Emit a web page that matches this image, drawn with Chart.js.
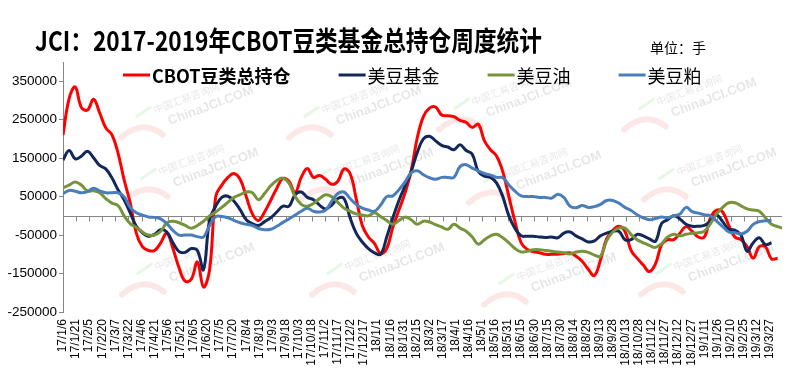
<!DOCTYPE html>
<html><head><meta charset="utf-8">
<script src="https://cdn.jsdelivr.net/npm/chart.js@4.4.1/dist/chart.umd.min.js"></script>
<style>
html,body{margin:0;padding:0;background:#fff;}
#wrap{position:relative;width:794px;height:384px;overflow:hidden;background:#fff;}
#c{position:absolute;left:0;top:0;}
#title{position:absolute;left:35px;top:26px;font-family:"Noto Sans CJK SC";font-weight:bold;font-size:27px;line-height:1;white-space:nowrap;transform-origin:0 0;color:#000;}
#unit{position:absolute;left:650px;top:40px;font-family:"Noto Sans CJK SC";font-size:14px;line-height:1;white-space:nowrap;color:#000;}
</style></head>
<body><div id="wrap">
<canvas id="c" width="794" height="384"></canvas>
<div id="title">JCI：2017-2019年CBOT豆类基金总持仓周度统计</div>
<div id="unit">单位：手</div>
</div>
<script>
// ---- data ----
const firstWeek = '2017-01-06';           // weekly observations, one per week from this date
const seriesNames = ['CBOT豆类总持仓','美豆基金','美豆油','美豆粕'];
const seriesColors = ['#FF0000','#12275A','#77933C','#4A7EBB'];
const tickLabels = ['17/1/6','17/1/21','17/2/5','17/2/20','17/3/7','17/3/22','17/4/6','17/4/21','17/5/6','17/5/21','17/6/5','17/6/20','17/7/5','17/7/20','17/8/4','17/8/19','17/9/3','17/9/18','17/10/3','17/10/18','17/11/2','17/11/17','17/12/2','17/12/17','18/1/1','18/1/16','18/1/31','18/2/15','18/3/2','18/3/17','18/4/1','18/4/16','18/5/1','18/5/16','18/5/31','18/6/15','18/6/30','18/7/15','18/7/30','18/8/14','18/8/29','18/9/13','18/9/28','18/10/13','18/10/28','18/11/12','18/11/27','18/12/12','18/12/27','19/1/11','19/1/26','19/2/10','19/2/25','19/3/12','19/3/27'];
const yTickValues = [-250000,-150000,-50000,50000,150000,250000,350000];
const yMin = -250000, yMax = 400000;
const lastAxisDate = '2019-04-10';
const watermarkLines = ['中国汇易咨询网', 'ChinaJCI.COM'];

const cbotTotal = [210000,305000,335000,282000,275000,303000,268000,229000,211000,164000,
94000,34000,-45000,-80000,-90000,-90000,-70000,-45000,-85000,-135000,
-170000,-165000,-120000,-185000,-140000,50000,80000,100000,110000,95000,
50000,5000,-12000,10000,40000,72000,97000,90000,60000,100000,
123000,100000,105000,95000,82000,90000,122000,110000,45000,-25000,
-55000,-72000,-98000,-85000,-30000,15000,60000,117000,203000,258000,
280000,283000,262000,260000,258000,248000,243000,230000,238000,195000,
172000,155000,115000,50000,-15000,-70000,-87000,-93000,-96000,-100000,
-100000,-100000,-98000,-96000,-105000,-118000,-139000,-155000,-115000,-60000,
-38000,-27000,-40000,-90000,-110000,-128000,-145000,-125000,-75000,-62000,
-62000,-45000,-28000,-40000,-55000,-55000,-5000,15000,10000,-25000,
-55000,-62000,-80000,-110000,-80000,-80000,-112000,-110000];

const soyFund = [145000,170000,148000,155000,168000,151000,131000,122000,99000,68000,
42000,8000,-27000,-44000,-53000,-48000,-36000,-42000,-70000,-93000,
-95000,-85000,-90000,-140000,-10000,25000,48000,51000,38000,16000,
-10000,-20000,-25000,-15000,-5000,10000,25000,25000,55000,62000,
48000,42000,28000,18000,28000,45000,45000,-5000,-45000,-68000,
-85000,-96000,-100000,-55000,-5000,40000,78000,115000,165000,200000,
207000,195000,183000,179000,172000,185000,170000,160000,115000,103000,
100000,85000,50000,0,-33000,-52000,-53000,-53000,-55000,-56000,
-55000,-57000,-45000,-42000,-52000,-60000,-68000,-65000,-52000,-45000,
-40000,-40000,-62000,-62000,-48000,-52000,-60000,-66000,-20000,-10000,
0,-8000,-22000,-27000,-27000,-25000,-14000,2000,-15000,-35000,
-37000,-50000,-92000,-70000,-57000,-75000,-70000];

const soyOil = [73000,80000,88000,80000,65000,65000,60000,45000,33000,27000,
0,-20000,-30000,-42000,-50000,-50000,-40000,-18000,-14000,-18000,
-25000,-32000,-25000,-14000,0,10000,22000,35000,48000,55000,
62000,60000,42000,58000,78000,92000,98000,85000,50000,30000,
25000,32000,45000,55000,50000,35000,20000,12000,5000,2000,
0,8000,-2000,-12000,-22000,-12000,-3000,-10000,-22000,-14000,
-16000,-23000,-29000,-35000,-22000,-32000,-40000,-55000,-74000,-62000,
-52000,-48000,-57000,-70000,-85000,-94000,-92000,-88000,-88000,-90000,
-92000,-94000,-96000,-99000,-94000,-92000,-95000,-102000,-105000,-65000,
-42000,-32000,-32000,-48000,-62000,-70000,-77000,-82000,-72000,-55000,
-48000,-52000,-48000,-45000,-44000,-40000,-20000,5000,22000,34000,
34000,26000,18000,15000,12000,-5000,-22000,-28000,-33000];

const soyMeal = [58000,66000,64000,60000,63000,72000,65000,60000,60000,60000,
50000,22000,8000,2000,-3000,-4000,-8000,-20000,-38000,-50000,
-50000,-50000,-54000,-55000,-25000,-2000,-2000,-5000,-12000,-18000,
-22000,-25000,-33000,-36000,-35000,-27000,-17000,-8000,2000,12000,
20000,12000,10000,15000,38000,58000,62000,45000,30000,20000,
15000,12000,28000,50000,52000,68000,88000,112000,117000,107000,
99000,95000,100000,100000,100000,128000,133000,124000,117000,110000,
106000,100000,99000,80000,64000,52000,50000,50000,48000,48000,
46000,56000,48000,25000,21000,27000,22000,24000,30000,40000,
40000,33000,22000,14000,3000,-5000,-10000,-7000,-3000,-5000,
0,5000,22000,11000,7000,3000,0,-14000,-28000,-42000,
-44000,-47000,-40000,-22000,-15000,-13000,-12000];

// ---- helpers ----
const DAY = 86400000;
const t0 = Date.parse(firstWeek + 'T00:00:00Z');
function labelToDay(s){ const p = s.split('/').map(Number); return Math.round((Date.UTC(2000+p[0], p[1]-1, p[2]) - t0)/DAY); }
function weekly(values){ return values.map((v,i)=>({x: i*7, y: v})); }
const xMax = Math.round((Date.parse(lastAxisDate + 'T00:00:00Z') - t0)/DAY);
const allSeries = [cbotTotal, soyFund, soyOil, soyMeal];

// faint background watermark tiles (style only)
const watermarkPlugin = {
  id: 'watermark',
  beforeDatasetsDraw(chart){
    const ctx = chart.ctx;
    const spots = [[177,110],[182,172],[178,267],[345,110],[357,172],[368,267],[495,102],[525,175],[540,277],[680,102],[700,172],[697,267]];
    ctx.save();
    spots.forEach(([cx, cy]) => {
      ctx.save();
      ctx.translate(cx, cy);
      ctx.rotate(-0.36);
      ctx.strokeStyle = 'rgba(240,120,120,0.18)'; ctx.lineWidth = 6; ctx.lineCap = 'round';
      ctx.beginPath(); ctx.moveTo(-62, 6); ctx.quadraticCurveTo(-35, -4, -22, 18); ctx.stroke();
      ctx.strokeStyle = 'rgba(120,210,120,0.18)'; ctx.lineWidth = 3;
      ctx.beginPath(); ctx.moveTo(-40, -8); ctx.lineTo(-24, -12); ctx.stroke();
      ctx.fillStyle = 'rgba(0,0,0,0.10)';
      ctx.textBaseline = 'middle'; ctx.textAlign = 'left';
      ctx.font = '10px "Noto Sans CJK SC"';
      ctx.fillText(watermarkLines[0], -22, -8);
      ctx.font = 'bold 13px "Liberation Sans"';
      ctx.fillText(watermarkLines[1], -12, 8);
      ctx.restore();
    });
    ctx.restore();
  }
};

const zeroLinePlugin = {
  id: 'zeroLine',
  beforeDatasetsDraw(chart){
    const ctx = chart.ctx, xs = chart.scales.x, ys = chart.scales.y, a = chart.chartArea;
    const y0 = Math.round(ys.getPixelForValue(0)) + 0.5;
    ctx.save();
    ctx.strokeStyle = '#868686'; ctx.lineWidth = 1;
    ctx.beginPath();
    ctx.moveTo(a.left, y0); ctx.lineTo(a.right, y0);
    xs.ticks.forEach(t => { const px = Math.round(xs.getPixelForValue(t.value)) + 0.5; ctx.moveTo(px, y0); ctx.lineTo(px, y0 + 5); });
    ctx.stroke();
    ctx.restore();
  }
};

const legendPlugin = {
  id: 'customLegend',
  afterDraw(chart){
    const ctx = chart.ctx; let x = 123; const y = 75;
    chart.data.datasets.forEach((ds, i) => {
      ctx.save();
      ctx.strokeStyle = ds.borderColor; ctx.lineWidth = 3;
      ctx.beginPath(); ctx.moveTo(x, y); ctx.lineTo(x + 27, y); ctx.stroke();
      ctx.font = (i === 0 ? 'bold ' : '') + '18px "Noto Sans CJK SC"';
      ctx.fillStyle = '#000'; ctx.textBaseline = 'middle'; ctx.textAlign = 'left';
      ctx.fillText(ds.label, x + 29, y + 1);
      const w = ctx.measureText(ds.label).width;
      ctx.restore();
      x += 29 + w + 48;
    });
  }
};

new Chart(document.getElementById('c'), {
  type: 'line',
  data: {
    datasets: allSeries.map((vals, i) => ({
      label: seriesNames[i],
      data: weekly(vals),
      borderColor: seriesColors[i],
      backgroundColor: seriesColors[i],
      borderWidth: 3,
      pointRadius: 0,
      tension: 0.4,
      fill: false,
      order: 4 - i
    }))
  },
  options: {
    responsive: false,
    animation: false,
    devicePixelRatio: 1,
    layout: { padding: { top: 62, right: 12, left: 0, bottom: 0 } },
    plugins: { legend: { display: false }, title: { display: false }, tooltip: { enabled: false } },
    scales: {
      x: {
        type: 'linear', min: 0, max: xMax, offset: false,
        grid: { display: false, drawTicks: false },
        border: { display: false },
        afterBuildTicks(scale){ scale.ticks = tickLabels.map(l => ({ value: labelToDay(l) })); },
        afterFit(scale){ scale.height = 72; },
        ticks: {
          autoSkip: false, minRotation: 90, maxRotation: 90, padding: 7,
          color: '#000', font: { family: '"Liberation Sans", Arial', size: 12 },
          callback: (v, i) => tickLabels[i]
        }
      },
      y: {
        min: yMin, max: yMax,
        afterBuildTicks(scale){ scale.ticks = yTickValues.map(v => ({ value: v })); },
        afterFit(scale){ scale.width = 63; },
        grid: { drawOnChartArea: false, drawTicks: true, tickLength: 4, color: '#868686' },
        border: { display: true, color: '#868686', width: 1 },
        ticks: { padding: 2, color: '#000', font: { family: '"Liberation Sans", Arial', size: 13.5 }, callback: v => String(v) }
      }
    }
  },
  plugins: [watermarkPlugin, zeroLinePlugin, legendPlugin]
});

// condense title to the reference width
(function(){
  const t = document.getElementById('title');
  const w = t.getBoundingClientRect().width;
  t.style.transform = 'scaleX(' + (507 / w).toFixed(4) + ')';
})();
</script>
</body></html>
